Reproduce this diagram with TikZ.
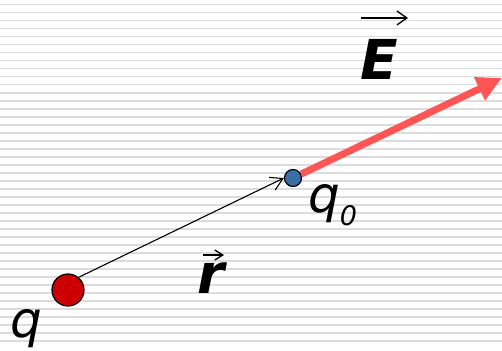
\documentclass[tikz,border=0pt]{standalone}
\usepackage{fontspec}
\setmainfont{DejaVu Sans}
\usetikzlibrary{arrows.meta,calc}
\definecolor{qred}{HTML}{CC0000}
\definecolor{qblue}{HTML}{3B6EA5}
\definecolor{fieldred}{HTML}{FF5555}
\definecolor{rulegray}{HTML}{DCDCDC}
\begin{document}
\begin{tikzpicture}[x=1pt,y=-1pt,
charge/.style={draw,circle,inner sep=0pt,line width=1.2pt},
lbl/.style={inner sep=0pt,anchor=base west,font=\fontsize{50}{60}\selectfont\itshape},
vlbl/.style={inner sep=0pt,anchor=base west,font=\fontsize{55}{64}\selectfont\bfseries\itshape},
vecbar/.style={line width=1.3pt,-{Straight Barb[length=10pt,width=14pt,line width=1.3pt]}}]
\useasboundingbox(0,0)rectangle(502,350);
\foreach\i in{0,...,42}\draw[rulegray,line width=1.6pt](0,4.7+8*\i)--(502,4.7+8*\i);
\node[charge,fill=qred,minimum size=32pt](q)at(68,290){};
\node[charge,fill=qblue,minimum size=17pt](q0)at(293,178){};
\coordinate(tip)at(502,78);
\draw[line width=1.1pt,-{Straight Barb[length=12pt,width=14pt]}](q.50)--(q0.west);
\draw[fieldred,line width=7pt,-{Triangle[length=25pt,width=24pt]}](q0)--(tip);
\node[lbl](lblq)at(10,337){q};
\node[lbl](lblq0)at(308,212){q{\fontsize{27}{30}\selectfont\raisebox{-13pt}{0}}};
\node[vlbl](lblr)at(197,293){r};\draw[vecbar,-{Straight Barb[length=8pt,width=10pt,line width=1.3pt]}]($(lblr.base west)+(6,-38)$)--+(21,0);
\node[vlbl](lblE)at(360,80){E};\draw[vecbar]($(lblE.base west)+(1,-62)$)--+(47,0);
\end{tikzpicture}
\end{document}
